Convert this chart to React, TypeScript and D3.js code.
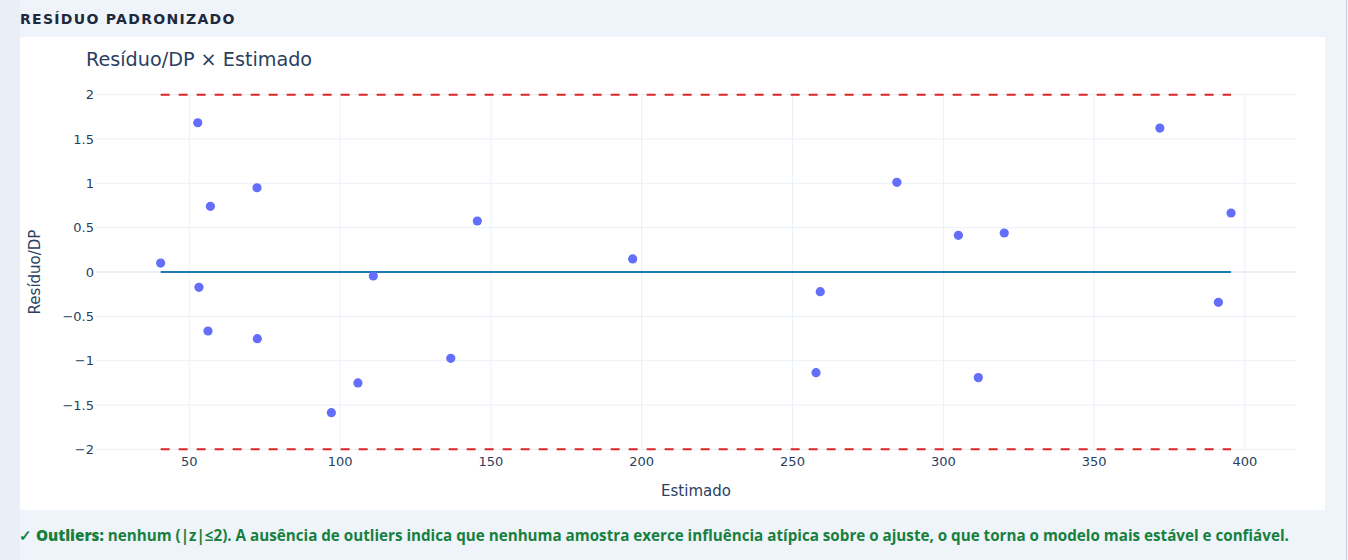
import React from "react";
import * as d3 from "d3";

// Fitted value and standardized residual for each sample
const estimado: number[] = [
  40.5, 52.8, 53.2, 56.2, 57.0, 72.45, 72.55, 97.1, 105.9, 111.0, 136.7,
  145.5, 197.0, 257.8, 259.2, 284.6, 305.0, 311.6, 320.2, 371.8, 391.2, 395.4,
];
const residuoDP: number[] = [
  0.101, 1.683, -0.173, -0.665, 0.741, 0.95, -0.752, -1.586, -1.251, -0.045,
  -0.973, 0.575, 0.147, -1.135, -0.222, 1.011, 0.414, -1.191, 0.44, 1.623,
  -0.342, 0.665,
];

const xTicks: number[] = [50, 100, 150, 200, 250, 300, 350, 400];
const yTicks: number[] = [-2, -1.5, -1, -0.5, 0, 0.5, 1, 1.5, 2];
const limits: number[] = [-2, 2];

const W = 1348;
const H = 560;
const AXIS_FONT = "'DejaVu Sans', Verdana, sans-serif";
const AXIS_COLOR = "#2a3f5f";
const GRID = "#ebf0f8";

export default function App() {
  const x = d3.scaleLinear().domain([19, 417]).range([95.8, 1296.2]);
  const y = d3.scaleLinear().domain([-2.015, 2.015]).range([450.7, 93.3]);

  const [xMin, xMax] = d3.extent(estimado) as [number, number];
  const fmt = (v: number) => (v < 0 ? "\u2212" + String(Math.abs(v)) : String(v));
  const hLine = d3
    .line<number>()
    .x((v) => x(v))
    .y(() => y(0));

  return (
    <div style={{ position: "absolute", left: 0, top: 0, width: W, height: H }}>
      <svg width={W} height={H} style={{ display: "block" }}>
        <rect x={0} y={0} width={W} height={H} fill="#eff3fa" />
        <rect x={0} y={0} width={20} height={H} fill="#eaeef6" />
        <line x1={1346.5} x2={1346.5} y1={0} y2={H} stroke="#c9ced8" />
        <text
          x={20}
          y={24}
          fontFamily={AXIS_FONT}
          fontWeight={700}
          fontSize={14}
          letterSpacing={1.3}
          fill="#1e293b"
        >
          RESÍDUO PADRONIZADO
        </text>

        {/* chart card */}
        <rect x={20} y={37} width={1305} height={473} fill="#ffffff" />

        <text x={86} y={65.5} fontFamily={AXIS_FONT} fontSize={19.2} fill={AXIS_COLOR}>
          Resíduo/DP × Estimado
        </text>

        {/* grid */}
        <g>
          {xTicks.map((t) => (
            <line
              key={"gx" + t}
              x1={x(t)}
              x2={x(t)}
              y1={y.range()[1]}
              y2={y.range()[0]}
              stroke={GRID}
              strokeWidth={1}
            />
          ))}
          {yTicks.map((t) => (
            <line
              key={"gy" + t}
              x1={x.range()[0]}
              x2={x.range()[1]}
              y1={y(t)}
              y2={y(t)}
              stroke={GRID}
              strokeWidth={t === 0 ? 2 : 1}
            />
          ))}
        </g>

        {/* tick labels */}
        <g fontFamily={AXIS_FONT} fontSize={13} fill={AXIS_COLOR}>
          {xTicks.map((t) => (
            <text key={"tx" + t} x={x(t)} y={466} textAnchor="middle">
              {fmt(t)}
            </text>
          ))}
          {yTicks.map((t) => (
            <text key={"ty" + t} x={94} y={y(t) + 4.7} textAnchor="end">
              {fmt(t)}
            </text>
          ))}
        </g>

        {/* axis titles */}
        <text
          x={x(218)}
          y={496}
          textAnchor="middle"
          fontFamily={AXIS_FONT}
          fontSize={15}
          fill={AXIS_COLOR}
        >
          Estimado
        </text>
        <text
          transform={`translate(39.5, ${y(0)}) rotate(-90)`}
          textAnchor="middle"
          fontFamily={AXIS_FONT}
          fontSize={15}
          fill={AXIS_COLOR}
        >
          Resíduo/DP
        </text>

        {/* ±2 limits */}
        {limits.map((l) => (
          <line
            key={"lim" + l}
            x1={x(xMin)}
            x2={x(xMax)}
            y1={y(l)}
            y2={y(l)}
            stroke="#dc2626"
            strokeWidth={2}
            strokeDasharray="9,9"
          />
        ))}

        {/* reference line at zero */}
        <path
          d={hLine([xMin, xMax]) ?? ""}
          fill="none"
          stroke="#1f77b4"
          strokeWidth={2}
        />

        {/* samples */}
        <g fill="#636efa">
          {estimado.map((e, i) => (
            <circle key={i} cx={x(e)} cy={y(residuoDP[i])} r={4.6} />
          ))}
        </g>

        <text
          x={19}
          y={540.5}
          fontFamily="'Open Sans', sans-serif"
          fontSize={15.2}
          fontWeight={700}
          fill="#17803d"
        >
          <tspan fontWeight={800}>✓ Outliers:</tspan>
          <tspan> nenhum (|z|≤2). A ausência de outliers indica que nenhuma amostra exerce influência atípica sobre o ajuste, o que torna o modelo mais estável e confiável.</tspan>
        </text>
      </svg>
    </div>
  );
}
